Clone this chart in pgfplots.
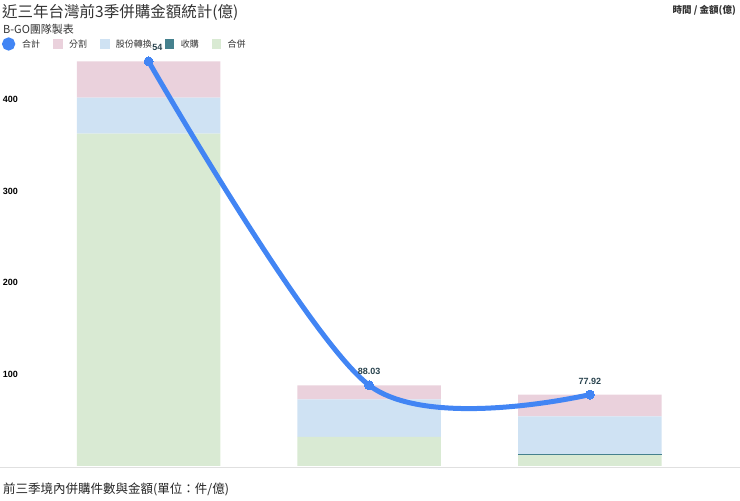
\documentclass[border=0pt]{standalone}
\usepackage{pgfplots}
\pgfplotsset{compat=1.18}
\usepackage{fontspec}
\setmainfont{Noto Sans CJK TC}
\newfontfamily\numfont{Liberation Sans}
\definecolor{lineblue}{RGB}{66,133,244}
\definecolor{pinkc}{RGB}{234,209,220}
\definecolor{bluec}{RGB}{207,226,243}
\definecolor{tealc}{RGB}{69,129,142}
\definecolor{greenc}{RGB}{217,234,211}
\definecolor{lblc}{RGB}{41,67,78}
\definecolor{titlec}{RGB}{51,51,51}
\begin{document}
\begin{tikzpicture}
\path[use as bounding box] (0pt,0pt) rectangle (740pt,501pt);
\pgfplotsset{base/.style={
  scale only axis, width=662pt, height=412.4pt,
  at={(38.2pt,35pt)}, anchor=south west,
  xmin=-0.5, xmax=2.5, ymin=0, ymax=450,
  axis line style={draw=none}, major tick length=0pt,
}}
\begin{axis}[base,
  ybar stacked, bar width=143.5pt,
  xtick={0,1,2}, xticklabels={2018前三季,2019前三季,2020前三季},
  xticklabel style={anchor=center, yshift=10pt, font=\fontsize{9}{10}\selectfont, text=titlec},
  ytick={100,200,300,400},
  /pgf/number format/assume math mode=true,
  yticklabel style={anchor=west, xshift=-35.5pt, inner sep=0pt, font=\numfont\bfseries\fontsize{9}{10}\selectfont, text=black},
]
\addplot[fill=greenc, draw=none] coordinates {(0,362.7) (1,31.7) (2,11.8)};
\addplot[fill=tealc, draw=none] coordinates {(0,0) (1,0) (2,0.9)};
\addplot[fill=bluec, draw=none] coordinates {(0,39.3) (1,41.1) (2,41.5)};
\addplot[fill=pinkc, draw=none] coordinates {(0,39.54) (1,15.23) (2,23.72)};
\end{axis}
\begin{axis}[base, hide axis, clip=false,
  legend style={at={(axis description cs:-0.0548,1.0233)}, anchor=west, draw=none, fill=none,
    inner sep=0pt, font=\fontsize{9}{10}\selectfont, text=titlec,
    nodes={inner xsep=0pt, inner ysep=1pt, fill=white},
    /tikz/every odd column/.append style={column sep=7pt},
    /tikz/every even column/.append style={column sep=13pt}},
  legend columns=5,
]
\addplot[color=lineblue, line width=5pt, smooth, mark=*, mark size=4.5pt,
  mark options={solid, fill=lineblue, draw=lineblue, line width=0pt},
  nodes near coords, point meta=explicit symbolic,
  every node near coord/.append style={font=\numfont\bfseries\fontsize{9}{10}\selectfont, text=lblc, yshift=7pt},
  legend image code/.code={\fill[lineblue] (4pt,0pt) circle (4pt);}]
  coordinates {(0,441.54) [441.54] (1,88.03) [88.03] (2,77.92) [77.92]};
\addlegendentry{合計}
\addlegendimage{legend image code/.code={\fill[pinkc] (0pt,-4pt) rectangle (8.5pt,4.5pt);}}
\addlegendentry{分割}
\addlegendimage{legend image code/.code={\fill[bluec] (0pt,-4pt) rectangle (8.5pt,4.5pt);}}
\addlegendentry{股份轉換}
\addlegendimage{legend image code/.code={\fill[tealc] (0pt,-4pt) rectangle (8.5pt,4.5pt);}}
\addlegendentry{收購}
\addlegendimage{legend image code/.code={\fill[greenc] (0pt,-4pt) rectangle (8.5pt,4.5pt);}}
\addlegendentry{合併}
\end{axis}
\node[anchor=west, inner sep=0pt, text=titlec, font=\fontsize{15.5}{17}\selectfont] at (2pt,489pt) {近三年台灣前3季併購金額統計(億)};
\node[anchor=west, inner sep=0pt, text=titlec, font=\fontsize{11}{12}\selectfont] at (3pt,472pt) {B-GO團隊製表};
\node[anchor=east, inner sep=0pt, text=titlec, font=\bfseries\fontsize{9.5}{11}\selectfont] at (736pt,491pt) {時間 / 金額(億)};
\draw[color=black!12, line width=1pt] (0pt,33pt) -- (740pt,33pt);
\node[anchor=west, inner sep=0pt, text=black!85, font=\fontsize{12.5}{14}\selectfont] at (3pt,12pt) {前三季境內併購件數與金額(單位：件/億)};
\end{tikzpicture}
\end{document}
